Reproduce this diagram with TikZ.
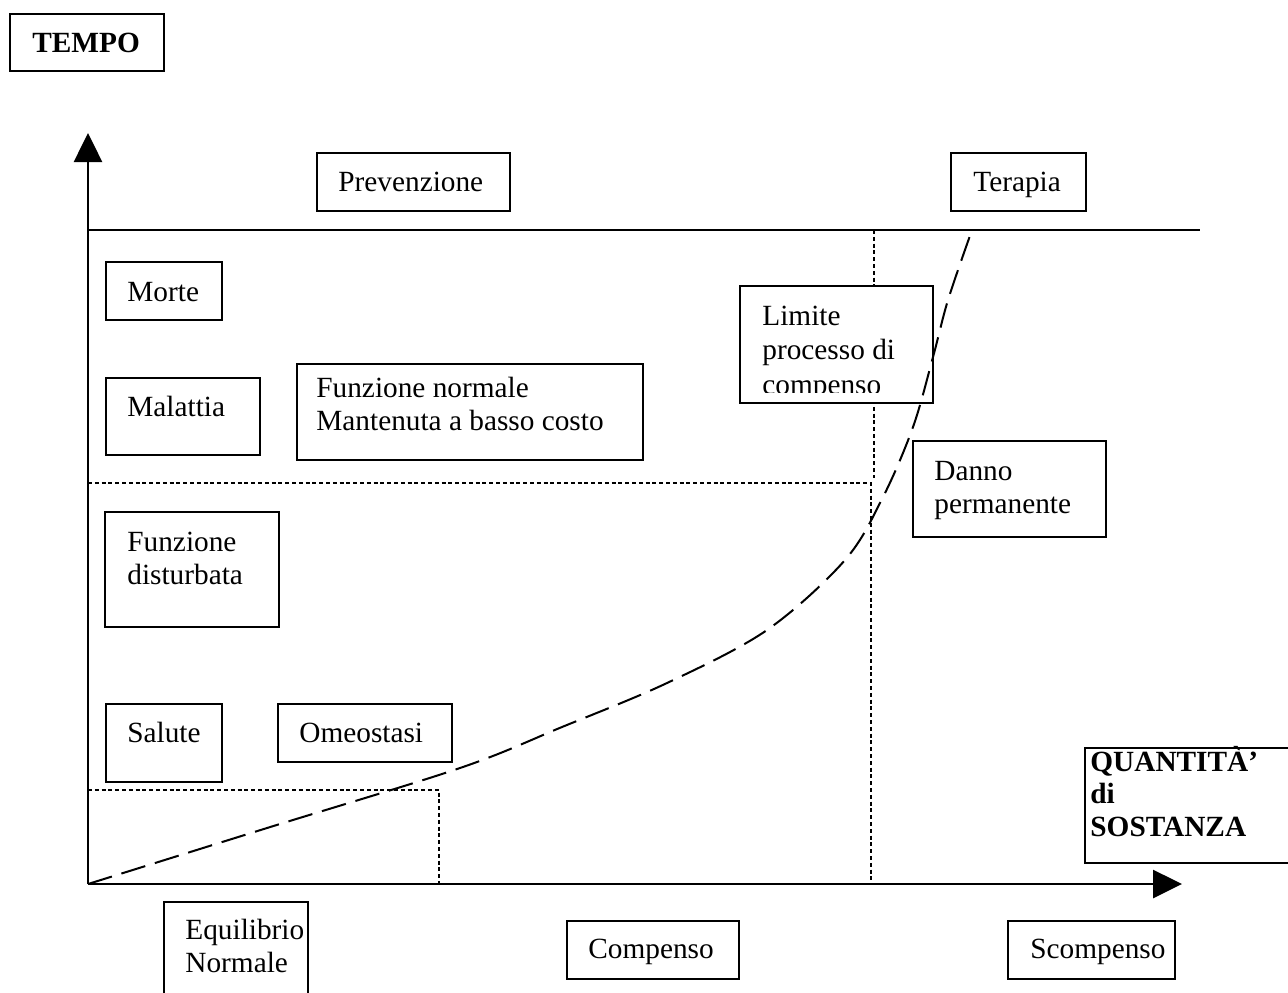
\documentclass[tikz,border=0pt]{standalone}
\usepackage{fontspec}
\setmainfont{Liberation Serif}
\usetikzlibrary{arrows.meta}
% a framed panel given by its top-left and bottom-right corners
\newcommand\panel[5]{\node[frame, minimum width={(#4-#2)*0.5pt}, minimum height={(#5-#3)*0.5pt}] (#1) at (#2,#3) {};}
\begin{document}
\begin{tikzpicture}[x=0.5pt,y=-0.5pt,
  frame/.style={draw, line width=1pt, fill=white, anchor=north west, inner sep=0pt, outer sep=0pt},
  lbl/.style={anchor=base west, inner sep=0pt, align=left, font=\fontsize{14.65pt}{16.25pt}\selectfont},
  lblb/.style={lbl, font=\fontsize{14.65pt}{16.25pt}\selectfont\bfseries},
  axis/.style={line width=1.3pt, -{Triangle[length=14.5pt,width=14pt]}},
  rule/.style={line width=1.1pt},
  guide/.style={line width=1.1pt, dash pattern=on 2pt off 1.4pt},
  trend/.style={line width=1pt, dash pattern=on 12.5pt off 5pt}]
\clip (0,0) rectangle (1288,992);

% reference points of the chart
\coordinate (O) at (88,884);
\coordinate (ytip) at (88,133);
\coordinate (xtip) at (1182,884);
\coordinate (topL) at (88,230);
\coordinate (topR) at (1200,230);
\coordinate (midL) at (88,483);
\coordinate (midC) at (871,483);
\coordinate (midB) at (871,884);
\coordinate (upT) at (874,230);
\coordinate (upB) at (874,478);
\coordinate (lowL) at (88,790);
\coordinate (lowC) at (439,790);
\coordinate (lowB) at (439,884);

% axes and top rule
\draw[axis] (O) -- (ytip);
\draw[axis] (O) -- (xtip);
\draw[rule] (topL) -- (topR);

% dotted zone limits
\draw[guide] (midL) -- (midC) -- (midB);
\draw[guide] (upT) -- (upB);
\draw[guide] (lowL) -- (lowC) -- (lowB);

% panels
\panel{tempo}{10}{14}{164}{71}
\panel{prev}{317}{153}{510}{211}
\panel{ter}{951}{153}{1086}{211}
\panel{morte}{106}{262}{222}{320}
\panel{mal}{106}{378}{260}{455}
\panel{fnorm}{297}{364}{643}{460}
\panel{lim}{740}{286}{933}{403}
\panel{danno}{913}{441}{1106}{537}
\panel{fdist}{105}{512}{279}{627}
\panel{sal}{106}{704}{222}{782}
\panel{omeo}{278}{704}{452}{762}
\panel{quant}{1085}{748}{1300}{863}
\panel{equi}{164}{902}{308}{1000}
\panel{comp}{567}{921}{739}{979}
\panel{scomp}{1008}{921}{1175}{979}

% panel texts (multi-line texts are placed by the baseline of their last line)
\node[lblb] (tempoT) at (32,52) {TEMPO};
\node[lbl] (prevT) at (338,191) {Prevenzione};
\node[lbl] (terT) at (973,191) {Terapia};
\node[lbl] (morteT) at (127,301) {Morte};
\node[lbl] (malT) at (127,416) {Malattia};
\node[lbl] (fnormT) at (316,430) {Funzione normale\\Mantenuta a basso costo};
\begin{scope}
  \clip (741,287) rectangle (932,392);
  \node[lbl] (limT) at (762,394) {Limite\\[1pt]processo di\\[1pt]compenso};
\end{scope}
\node[lbl] (dannoT) at (934,513) {Danno\\permanente};
\node[lbl] (fdistT) at (127,584) {Funzione\\disturbata};
\node[lbl] (salT) at (127,742) {Salute};
\node[lbl] (omeoT) at (299,742) {Omeostasi};
\node[lblb] (quantT) at (1090,836) {QUANTITÀ’\\di\\SOSTANZA};
\node[lbl] (equiT) at (185,972) {Equilibrio\\Normale};
\node[lbl] (compT) at (588,958) {Compenso};
\node[lbl] (scompT) at (1030,958) {Scompenso};

% dose curve
\draw[trend] plot[smooth, tension=0.55] coordinates {
  (88,884) (267,828) (460,768) (562,727) (667,683) (767,630)
  (845,560) (883,497) (913,427) (933,357) (948,300) (972,230)};
\end{tikzpicture}
\end{document}
